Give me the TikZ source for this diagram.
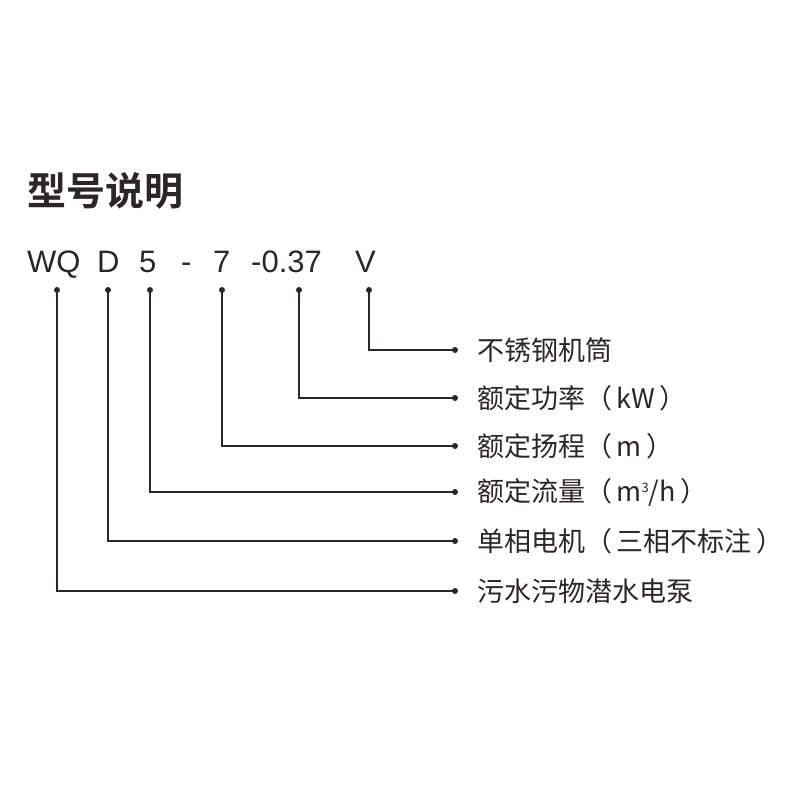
\documentclass[tikz,border=0pt]{standalone}
\usepackage{fontspec}
\setmainfont{Liberation Sans}
\newfontfamily\cjk{Noto Sans CJK SC}
\newfontfamily\cjkb{Noto Sans CJK SC Bold}
\definecolor{ink}{HTML}{2E2624}
\begin{document}
\begin{tikzpicture}[x=1pt,y=-1pt,
  code/.style={font=\fontsize{31}{31}\selectfont,text=ink,inner sep=0pt,anchor=base west},
  lab/.style={font=\cjk\fontsize{27}{27}\selectfont,text=ink,inner sep=0pt,anchor=west},
  ln/.style={draw=ink,line width=1.2pt},
  dot/.style={circle,fill=ink,inner sep=0pt,minimum size=6pt}]
\useasboundingbox (0,0) rectangle (800,800);
\node[font=\cjkb\fontsize{39}{39}\selectfont,text=ink,inner sep=0pt,anchor=west] (title) at (27,191) {型号说明};
\node[code] (c1) at (27,272) {WQ};
\node[code] (c2) at (97,272) {D};
\node[code] (c3) at (139,272) {5};
\node[code] (c4) at (181,272) {-};
\node[code] (c5) at (213,272) {7};
\node[code] (c6) at (251,272) {-0.37};
\node[code] (c7) at (355,272) {V};
\foreach \x/\y/\n/\t in {369/350/a/{不锈钢机筒}, 299/398/b/{额定功率（\,kW\,）}, 222/446/c/{额定扬程（\,m\,）}, 150/492/d/{额定流量（\,m\raisebox{9pt}{\fontsize{13}{13}\selectfont 3}{/}h\,）}, 108/541/e/{单相电机（\,三相不标注\,）}, 57/591/f/{污水污物潜水电泵}}{
  \node[dot] (t\n) at (\x,290) {};
  \node[dot] (e\n) at (455,\y) {};
  \node[lab] (l\n) at (477,\y) {\t};
  \draw[ln] (t\n.center) |- (e\n.center);
}
\end{tikzpicture}
\end{document}
